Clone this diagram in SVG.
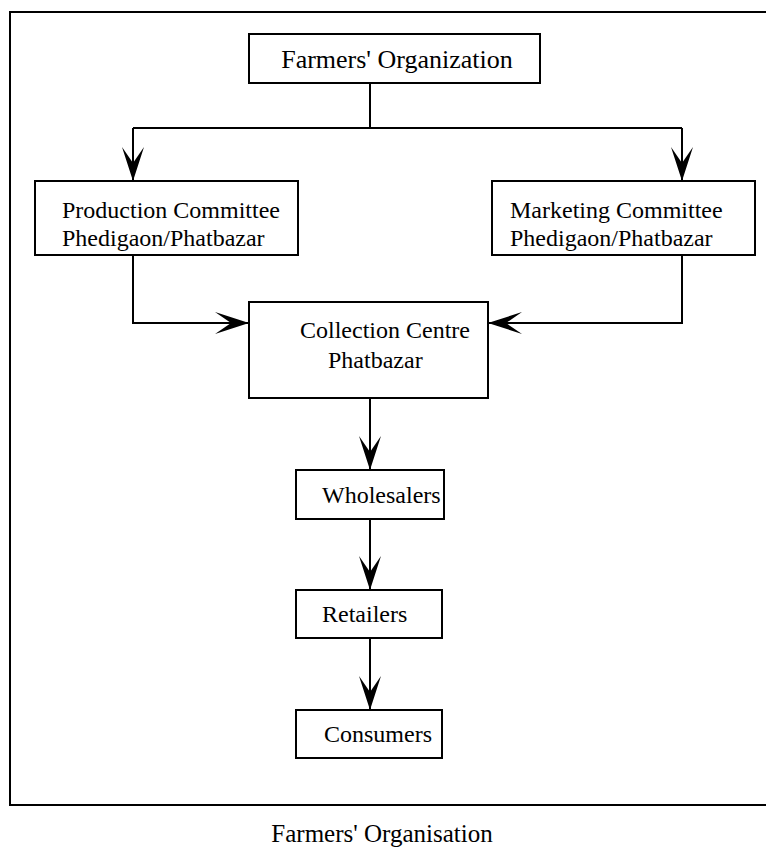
<svg xmlns="http://www.w3.org/2000/svg" width="766" height="854" viewBox="0 0 766 854">
<style>
.box{fill:#fff;stroke:#000;stroke-width:2}
.ln{fill:none;stroke:#000;stroke-width:2}
.t{font-family:"Liberation Serif","Times New Roman",serif;font-size:24px;fill:#000}
</style>
<defs>
<marker id="ah" viewBox="-36 -13 38 26" markerWidth="38" markerHeight="26" refX="0" refY="0" orient="auto" markerUnits="userSpaceOnUse">
<path d="M0,0 L-34,-11 L-18,0 L-34,11 Z" fill="#000"/>
</marker>
</defs>
<rect x="0" y="0" width="766" height="854" fill="#fff"/>
<g id="frame"><path class="ln" d="M770,12 H10 V805 H770"/></g>
<g id="connectors">
<path class="ln" d="M370,83 V128"/>
<path class="ln" d="M133,128 H682"/>
<path class="ln" d="M133,128 V181" marker-end="url(#ah)"/>
<path class="ln" d="M682,128 V181" marker-end="url(#ah)"/>
<path class="ln" d="M133,255 V323 H249" marker-end="url(#ah)"/>
<path class="ln" d="M682,255 V323 H488" marker-end="url(#ah)"/>
<path class="ln" d="M370,398 V470" marker-end="url(#ah)"/>
<path class="ln" d="M370,519 V590" marker-end="url(#ah)"/>
<path class="ln" d="M370,638 V710" marker-end="url(#ah)"/>
</g>
<g id="farmers-org"><rect class="box" x="249" y="34" width="291" height="49"/><text class="t" x="397" y="68" text-anchor="middle" style="font-size:26px">Farmers' Organization</text></g>
<g id="production"><rect class="box" x="35" y="181" width="263" height="74"/><text class="t" x="62" y="218">Production Committee</text><text class="t" x="62" y="246">Phedigaon/Phatbazar</text></g>
<g id="marketing"><rect class="box" x="492" y="181" width="263" height="74"/><text class="t" x="510" y="218">Marketing Committee</text><text class="t" x="510" y="246">Phedigaon/Phatbazar</text></g>
<g id="collection"><rect class="box" x="249" y="302" width="239" height="96"/><text class="t" x="300" y="338">Collection Centre</text><text class="t" x="328" y="368">Phatbazar</text></g>
<g id="wholesalers"><rect class="box" x="296" y="470" width="148" height="49"/><text class="t" x="322" y="503">Wholesalers</text></g>
<g id="retailers"><rect class="box" x="296" y="590" width="146" height="48"/><text class="t" x="322" y="622">Retailers</text></g>
<g id="consumers"><rect class="box" x="296" y="710" width="146" height="48"/><text class="t" x="324" y="742">Consumers</text></g>
<text class="t" x="382" y="842" text-anchor="middle" style="font-size:25px">Farmers' Organisation</text>
</svg>
